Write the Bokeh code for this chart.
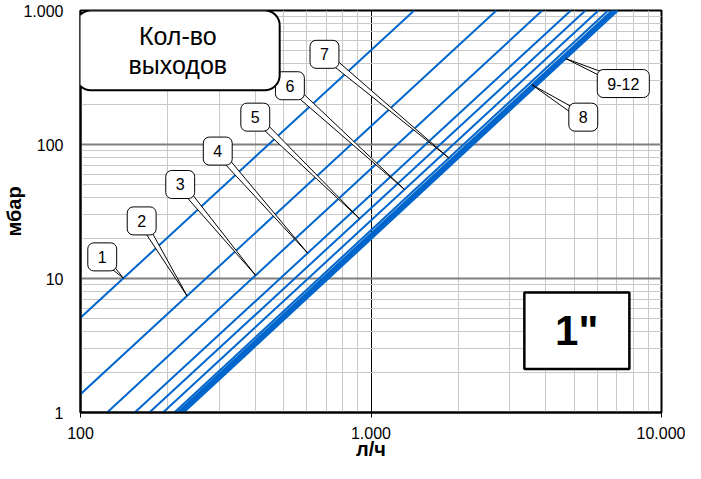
import numpy as np
from bokeh.plotting import figure
from bokeh.models import Label, BoxAnnotation, FixedTicker, CustomJSTickFormatter
from bokeh.embed import file_html
from bokeh.resources import INLINE

outlets    = ["1", "2", "3", "4", "5", "6", "7", "8", "9", "10", "11", "12"]
flow_start = [100, 100, 123.5, 153.7, 172.6, 192.2, 210.4, 215.4, 217.9, 221.3, 223.9, 226.5]   # л/ч
dp_start   = [5.1, 1.37, 1, 1, 1, 1, 1, 1, 1, 1, 1, 1]                                        # мбар
flow_end   = [1408, 2701, 3885, 4874, 5472, 6065, 6553, 6760, 6838, 6918, 6998, 7080]
dp_end     = [1000, 1000, 1000, 1000, 1000, 1000, 1000, 1000, 1000, 1000, 1000, 1000]

x_ticks = [100, 1000, 10000]
x_tick_labels = ["100", "1.000", "10.000"]
y_ticks = [1, 10, 100, 1000]
y_tick_labels = ["1", "10", "100", "1.000"]

# callout labels: text, line they point to, flow at the tip, box centre (flow, dp)
callout_text = ["1", "2", "3", "4", "5", "6", "7", "8", "9-12"]
callout_line = [0, 1, 2, 3, 4, 5, 6, 7, 11]
callout_tip_flow = [140.5, 232.7, 400.6, 605.2, 913.4, 1304, 1855, 3578, 4688]
callout_box_flow = [118.8, 162.4, 220.4, 296.8, 399.6, 525.8, 691.6, 5380, 7387]
callout_box_dp   = [14.5, 26.9, 50.3, 89.3, 160, 274.5, 471, 160, 285]

FONT = "Liberation Sans"
W, H = 685, 463
BL, BR, BT, BB = 71, 24, 10, 51

p = figure(width=W, height=H, x_axis_type="log", y_axis_type="log",
           x_range=(100, 10000), y_range=(1, 1000),
           output_backend="svg", toolbar_location=None,
           min_border_left=BL, min_border_right=BR, min_border_top=BT, min_border_bottom=BB)
p.background_fill_color = "white"
p.border_fill_color = "white"
p.outline_line_color = "black"
p.outline_line_width = 2

x_minor = [m * d for d in (100, 1000) for m in range(2, 10)]
y_minor = [m * d for d in (1, 10, 100) for m in range(2, 10)]
p.xaxis.ticker = FixedTicker(ticks=x_ticks, minor_ticks=x_minor)
p.yaxis.ticker = FixedTicker(ticks=y_ticks, minor_ticks=y_minor)
fmt_code = """
const i = tv.findIndex(t => Math.abs(t - tick) <= 1e-6 * t);
return i >= 0 ? tl[i] : '';
"""
p.xaxis.formatter = CustomJSTickFormatter(args=dict(tv=x_ticks, tl=x_tick_labels), code=fmt_code)
p.yaxis.formatter = CustomJSTickFormatter(args=dict(tv=y_ticks, tl=y_tick_labels), code=fmt_code)

for ax in (p.xaxis, p.yaxis):
    ax.axis_line_color = "black"
    ax.axis_line_width = 2
    ax.minor_tick_line_color = None
    ax.major_label_text_font = FONT
    ax.major_label_text_font_size = "16px"
    ax.major_label_text_color = "black"
    ax.axis_label_text_font = FONT
    ax.axis_label_text_font_size = "20px"
    ax.axis_label_text_font_style = "bold"
    ax.axis_label_text_color = "black"
    ax.major_tick_in = 0
    ax.major_tick_line_color = "black"

p.xaxis.major_tick_out = 5
p.xaxis.major_label_standoff = 9
p.xaxis.axis_label_standoff = -4
p.yaxis.major_tick_out = 0
p.yaxis.major_label_standoff = 13
p.yaxis.axis_label_standoff = -5
p.xaxis.axis_label = "л/ч"
p.yaxis.axis_label = "мбар"

p.xgrid.grid_line_color = "black"
p.xgrid.grid_line_width = 1
p.ygrid.grid_line_color = "#7f7f7f"
p.ygrid.grid_line_width = 2
for g in (p.xgrid, p.ygrid):
    g.minor_grid_line_color = "#c8c8c8"
    g.minor_grid_line_width = 1

# ---- characteristic lines ----
xs = [[a, b] for a, b in zip(flow_start, flow_end)]
ys = [[a, b] for a, b in zip(dp_start, dp_end)]
p.multi_line(xs, ys, line_color="#0066cc", line_width=2)

# ---- callout wedges ----
sx = (W - BL - BR) / 2.0
sy = (H - BT - BB) / 3.0

def dp_on_line(i, q):
    lx0, lx1 = np.log10(flow_start[i]), np.log10(flow_end[i])
    ly0, ly1 = np.log10(dp_start[i]), np.log10(dp_end[i])
    t = (np.log10(q) - lx0) / (lx1 - lx0)
    return float(10 ** (ly0 + t * (ly1 - ly0)))

wx, wy = [], []
for li, tq, bq, bp in zip(callout_line, callout_tip_flow, callout_box_flow, callout_box_dp):
    tp = dp_on_line(li, tq)
    lbx, lby, ltx, lty = np.log10([bq, bp, tq, tp])
    dx, dy = (ltx - lbx) * sx, (lty - lby) * sy
    L = np.hypot(dx, dy)
    nx, ny = -dy / L, dx / L
    w = 3.5
    wx.append([float(10 ** (lbx + nx * w / sx)), float(10 ** (lbx - nx * w / sx)), tq])
    wy.append([float(10 ** (lby + ny * w / sy)), float(10 ** (lby - ny * w / sy)), tp])
p.patches(wx, wy, fill_color="white", line_color="black", line_width=1)

for t, bq, bp in zip(callout_text, callout_box_flow, callout_box_dp):
    p.add_layout(Label(x=bq, y=bp, text=t, text_align="center", text_baseline="middle",
                       text_font=FONT, text_font_size="16px", text_color="black",
                       background_fill_color="white", border_line_color="black",
                       border_line_width=1, border_radius=6,
                       padding=dict(left=10, right=10, top=8, bottom=8)))

# ---- title box "Кол-во выходов" ----
p.add_layout(BoxAnnotation(left=96.4, right=484.9, bottom=254.1, top=1001.6,
                           fill_color="white", fill_alpha=1.0, line_color="black",
                           line_width=2, line_alpha=1.0, border_radius=15))
p.add_layout(Label(x=216.2, y=504.6, text="Кол-во\nвыходов", text_align="center",
                   text_baseline="middle", text_font=FONT, text_font_size="25px",
                   text_color="black", text_line_height=1.05))

# ---- size box 1" ----
p.add_layout(BoxAnnotation(left=3372, right=7752, bottom=2.116, top=7.87,
                           fill_color="white", fill_alpha=1.0, line_color="black",
                           line_width=2.5, line_alpha=1.0))
p.add_layout(Label(x=5106, y=4.08, text='1"', text_align="center", text_baseline="middle",
                   text_font=FONT, text_font_size="42px", text_font_style="bold",
                   text_color="black"))

open("out.html", "w").write(file_html(p, INLINE))
